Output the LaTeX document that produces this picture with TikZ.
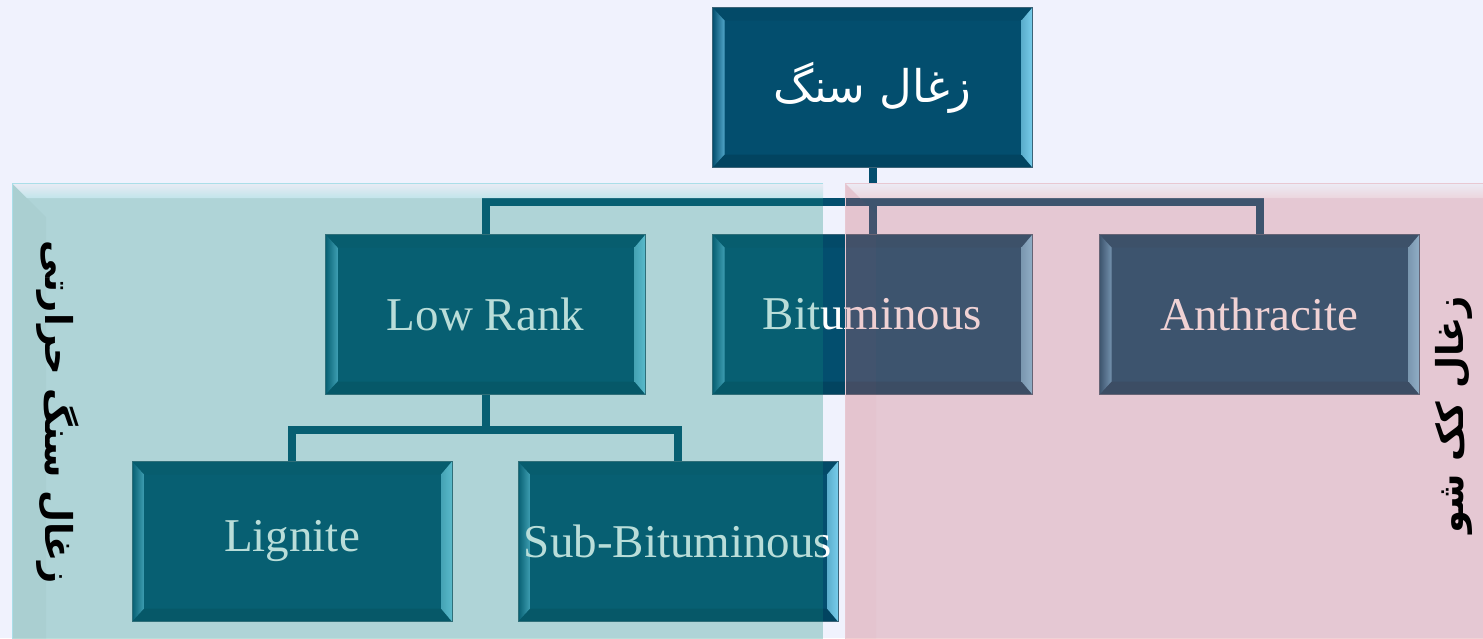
\documentclass[tikz,border=0pt]{standalone}
\usepackage{fontspec}
\setmainfont{Liberation Serif}
\newfontfamily\arabicfont[Script=Arabic]{DejaVu Sans}
\TeXXeTstate=1
\usetikzlibrary{calc}

\definecolor{pagebg}{RGB}{240,242,253}
\definecolor{boxfill}{RGB}{3,78,110}
\definecolor{boxline}{RGB}{60,100,120}
\definecolor{bevleft}{RGB}{80,165,200}
\definecolor{bevright}{RGB}{120,205,235}
\definecolor{bevtop}{RGB}{3,74,104}
\definecolor{bevbot}{RGB}{2,68,96}
\definecolor{tealpanel}{RGB}{17,140,125}
\definecolor{pinkpanel}{RGB}{205,100,110}
\definecolor{tealtop}{RGB}{233,235,244}
\definecolor{tealband}{RGB}{194,229,235}
\definecolor{tealedge}{RGB}{170,222,232}
\definecolor{pinktop}{RGB}{236,235,244}
\definecolor{pinkband}{RGB}{236,214,222}
\definecolor{pinkedge}{RGB}{232,200,210}

\tikzset{
  coalbox/.style={rectangle, minimum width=320pt, minimum height=160pt,
    inner sep=0pt, fill=boxfill, draw=boxline, line width=0.8pt,
    text=white, font=\fontsize{47}{52}\selectfont,
    path picture={
      \coordinate (bnw) at (path picture bounding box.north west);
      \coordinate (bne) at (path picture bounding box.north east);
      \coordinate (bsw) at (path picture bounding box.south west);
      \coordinate (bse) at (path picture bounding box.south east);
      % top and bottom faces
      \fill[bevtop] (bnw) -- (bne) -- ($(bne)+(-11,13)$) -- ($(bnw)+(12,13)$) -- cycle;
      \fill[bevbot] (bsw) -- (bse) -- ($(bse)+(-11,-13)$) -- ($(bsw)+(12,-13)$) -- cycle;
      % side faces
      \shade[left color=boxfill, right color=bevleft]
        (bnw) -- ($(bnw)+(12,13)$) -- ($(bsw)+(12,-13)$) -- (bsw) -- cycle;
      \shade[left color=bevright!75!boxfill, right color=bevright]
        (bne) -- ($(bne)+(-11,13)$) -- ($(bse)+(-11,-13)$) -- (bse) -- cycle;
    }},
  link/.style={draw=boxfill, line width=8pt},
  panellabel/.style={text=black, font=\arabicfont\bfseries\fontsize{37}{42}\selectfont}
}

\begin{document}
\begin{tikzpicture}[x=1pt,y=-1pt]
    \useasboundingbox (0,0) rectangle (1483,638);
    \clip (0,0) rectangle (1483,638);
    \fill[pagebg] (0,0) rectangle (1483,638);

    % the tree
    \node[coalbox, font=\arabicfont\fontsize{45}{50}\selectfont] (coal) at (872.5,87.5) {\beginR زغال سنگ\endR};

    \node[coalbox] (low)  at (485.5,314.5)  {Low Rank};
    \node[coalbox] (bit)  at (872.5,314.5)  {Bituminous};
    \node[coalbox] (anth) at (1259.5,314.5) {Anthracite};

    \node[coalbox] (lig) at (292,541.5) {Lignite};
    \node[coalbox] (sub) at (678,541.5) {Sub-Bituminous};

    \coordinate (fork1) at (872.5,202);
    \coordinate (fork2) at (485.5,430);

    \draw[link] (coal.south) -- (fork1);
    \draw[link] (low.north) |- (fork1) -| (anth.north);
    \draw[link] (fork1) -- (bit.north);
    \draw[link] (low.south) -- (fork2);
    \draw[link] (lig.north) |- (fork2) -| (sub.north);

    % teal panel
    \fill[tealpanel, fill opacity=.29] (12,183) rectangle (823,660);
    \fill[black, fill opacity=.025] (12,183) -- (46,217) -- (46,660) -- (12,660) -- cycle;
    \shade[top color=tealtop, bottom color=tealband]
      (12,183) -- (823,183) -- (823,198) -- (27,198) -- cycle;
    \draw[tealedge, line width=0.8pt] (12,660) -- (12,183) -- (823,183);

    % pink panel
    \fill[pinkpanel, fill opacity=.29] (845,183) rectangle (1490,660);
    \fill[pinkpanel, fill opacity=.04] (845,183) -- (876,214) -- (876,660) -- (845,660) -- cycle;
    \shade[top color=pinktop, bottom color=pinkband]
      (845,183) -- (1490,183) -- (1490,198) -- (860,198) -- cycle;
    \draw[pinkedge, line width=0.8pt] (845,660) -- (845,183) -- (1490,183);

    % panel labels
    \node[panellabel, rotate=-90] (thermal) at (58,412) {\beginR زغال سنگ حرارتی\endR};
    \node[panellabel, rotate=90] (coking) at (1454,415) {\beginR زغال کک شو\endR};
\end{tikzpicture}
\end{document}
